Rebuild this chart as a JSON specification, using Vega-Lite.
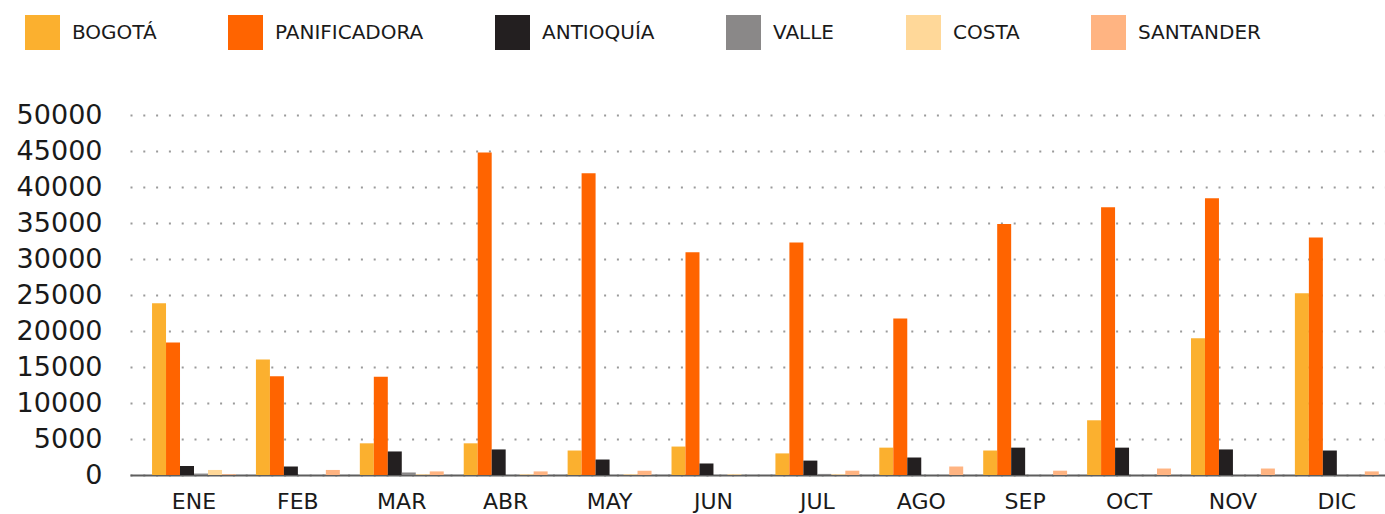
{
  "$schema": "https://vega.github.io/schema/vega-lite/v6.json",
  "width": 1255,
  "height": 360,
  "autosize": {"type": "none"},
  "padding": {"left": 130, "top": 115, "right": 0, "bottom": 39},
  "background": "#ffffff",
  "config": {
    "view": {"stroke": null},
    "font": "DejaVu Sans"
  },
  "data": {
    "values": [
      {"mes": "ENE", "region": "BOGOTÁ", "valor": 23850},
      {"mes": "ENE", "region": "PANIFICADORA", "valor": 18400},
      {"mes": "ENE", "region": "ANTIOQUÍA", "valor": 1250},
      {"mes": "ENE", "region": "VALLE", "valor": 200},
      {"mes": "ENE", "region": "COSTA", "valor": 700},
      {"mes": "ENE", "region": "SANTANDER", "valor": 100},
      {"mes": "FEB", "region": "BOGOTÁ", "valor": 16050},
      {"mes": "FEB", "region": "PANIFICADORA", "valor": 13700},
      {"mes": "FEB", "region": "ANTIOQUÍA", "valor": 1180},
      {"mes": "FEB", "region": "VALLE", "valor": 0},
      {"mes": "FEB", "region": "COSTA", "valor": 0},
      {"mes": "FEB", "region": "SANTANDER", "valor": 700},
      {"mes": "MAR", "region": "BOGOTÁ", "valor": 4400},
      {"mes": "MAR", "region": "PANIFICADORA", "valor": 13650},
      {"mes": "MAR", "region": "ANTIOQUÍA", "valor": 3270},
      {"mes": "MAR", "region": "VALLE", "valor": 350},
      {"mes": "MAR", "region": "COSTA", "valor": 100},
      {"mes": "MAR", "region": "SANTANDER", "valor": 500},
      {"mes": "ABR", "region": "BOGOTÁ", "valor": 4400},
      {"mes": "ABR", "region": "PANIFICADORA", "valor": 44800},
      {"mes": "ABR", "region": "ANTIOQUÍA", "valor": 3550},
      {"mes": "ABR", "region": "VALLE", "valor": 0},
      {"mes": "ABR", "region": "COSTA", "valor": 100},
      {"mes": "ABR", "region": "SANTANDER", "valor": 500},
      {"mes": "MAY", "region": "BOGOTÁ", "valor": 3400},
      {"mes": "MAY", "region": "PANIFICADORA", "valor": 41900},
      {"mes": "MAY", "region": "ANTIOQUÍA", "valor": 2150},
      {"mes": "MAY", "region": "VALLE", "valor": 0},
      {"mes": "MAY", "region": "COSTA", "valor": 100},
      {"mes": "MAY", "region": "SANTANDER", "valor": 600},
      {"mes": "JUN", "region": "BOGOTÁ", "valor": 3950},
      {"mes": "JUN", "region": "PANIFICADORA", "valor": 30950},
      {"mes": "JUN", "region": "ANTIOQUÍA", "valor": 1600},
      {"mes": "JUN", "region": "VALLE", "valor": 0},
      {"mes": "JUN", "region": "COSTA", "valor": 100},
      {"mes": "JUN", "region": "SANTANDER", "valor": 0},
      {"mes": "JUL", "region": "BOGOTÁ", "valor": 3000},
      {"mes": "JUL", "region": "PANIFICADORA", "valor": 32300},
      {"mes": "JUL", "region": "ANTIOQUÍA", "valor": 2000},
      {"mes": "JUL", "region": "VALLE", "valor": 150},
      {"mes": "JUL", "region": "COSTA", "valor": 100},
      {"mes": "JUL", "region": "SANTANDER", "valor": 600},
      {"mes": "AGO", "region": "BOGOTÁ", "valor": 3800},
      {"mes": "AGO", "region": "PANIFICADORA", "valor": 21750},
      {"mes": "AGO", "region": "ANTIOQUÍA", "valor": 2430},
      {"mes": "AGO", "region": "VALLE", "valor": 0},
      {"mes": "AGO", "region": "COSTA", "valor": 0},
      {"mes": "AGO", "region": "SANTANDER", "valor": 1180},
      {"mes": "SEP", "region": "BOGOTÁ", "valor": 3400},
      {"mes": "SEP", "region": "PANIFICADORA", "valor": 34850},
      {"mes": "SEP", "region": "ANTIOQUÍA", "valor": 3800},
      {"mes": "SEP", "region": "VALLE", "valor": 0},
      {"mes": "SEP", "region": "COSTA", "valor": 0},
      {"mes": "SEP", "region": "SANTANDER", "valor": 600},
      {"mes": "OCT", "region": "BOGOTÁ", "valor": 7600},
      {"mes": "OCT", "region": "PANIFICADORA", "valor": 37200},
      {"mes": "OCT", "region": "ANTIOQUÍA", "valor": 3800},
      {"mes": "OCT", "region": "VALLE", "valor": 0},
      {"mes": "OCT", "region": "COSTA", "valor": 0},
      {"mes": "OCT", "region": "SANTANDER", "valor": 900},
      {"mes": "NOV", "region": "BOGOTÁ", "valor": 19000},
      {"mes": "NOV", "region": "PANIFICADORA", "valor": 38450},
      {"mes": "NOV", "region": "ANTIOQUÍA", "valor": 3550},
      {"mes": "NOV", "region": "VALLE", "valor": 0},
      {"mes": "NOV", "region": "COSTA", "valor": 0},
      {"mes": "NOV", "region": "SANTANDER", "valor": 900},
      {"mes": "DIC", "region": "BOGOTÁ", "valor": 25250},
      {"mes": "DIC", "region": "PANIFICADORA", "valor": 33000},
      {"mes": "DIC", "region": "ANTIOQUÍA", "valor": 3400},
      {"mes": "DIC", "region": "VALLE", "valor": 0},
      {"mes": "DIC", "region": "COSTA", "valor": 0},
      {"mes": "DIC", "region": "SANTANDER", "valor": 500}
    ]
  },
  "mark": {"type": "bar", "strokeWidth": 0},
  "encoding": {
    "x": {
      "field": "mes",
      "type": "nominal",
      "sort": ["ENE", "FEB", "MAR", "ABR", "MAY", "JUN", "JUL", "AGO", "SEP", "OCT", "NOV", "DIC"],
      "scale": {"paddingInner": 0.1925, "paddingOuter": 0.136, "align": 0.78, "round": false},
      "axis": {
        "title": null,
        "labelAngle": 0,
        "ticks": false,
        "tickSize": 0,
        "labelPadding": 16,
        "labelFont": "DejaVu Sans",
        "labelFontSize": 22,
        "labelColor": "#1a1a1a",
        "domainColor": "#5e5e5e",
        "domainWidth": 2,
        "grid": false
      }
    },
    "xOffset": {
      "field": "region",
      "type": "nominal",
      "sort": ["BOGOTÁ", "PANIFICADORA", "ANTIOQUÍA", "VALLE", "COSTA", "SANTANDER"],
      "scale": {"paddingInner": 0, "paddingOuter": 0}
    },
    "y": {
      "field": "valor",
      "type": "quantitative",
      "scale": {"domain": [0, 50000], "nice": false},
      "axis": {
        "title": null,
        "values": [0, 5000, 10000, 15000, 20000, 25000, 30000, 35000, 40000, 45000, 50000],
        "format": "d",
        "domain": false,
        "ticks": false,
        "tickSize": 0,
        "labelPadding": 28,
        "labelFont": "DejaVu Sans",
        "labelFontSize": 27,
        "labelColor": "#1a1a1a",
        "grid": true,
        "gridColor": "#9a9a9a",
        "gridWidth": 2,
        "gridDash": [2, 10.8]
      }
    },
    "color": {
      "field": "region",
      "type": "nominal",
      "sort": ["BOGOTÁ", "PANIFICADORA", "ANTIOQUÍA", "VALLE", "COSTA", "SANTANDER"],
      "scale": {
        "domain": ["BOGOTÁ", "PANIFICADORA", "ANTIOQUÍA", "VALLE", "COSTA", "SANTANDER"],
        "range": ["#FBB02F", "#FF6400", "#231F20", "#8A8888", "#FFD899", "#FFB482"]
      },
      "legend": {
        "title": null,
        "orient": "none",
        "legendX": -105,
        "legendY": -100,
        "direction": "horizontal",
        "columns": 6,
        "padding": 0,
        "symbolType": "square",
        "symbolSize": 1225,
        "symbolStrokeWidth": 0,
        "symbolOpacity": 1,
        "labelOffset": 12,
        "columnPadding": 71,
        "labelFont": "DejaVu Sans",
        "labelFontSize": 20,
        "labelColor": "#1a1a1a",
        "labelLimit": 400
      }
    }
  }
}
